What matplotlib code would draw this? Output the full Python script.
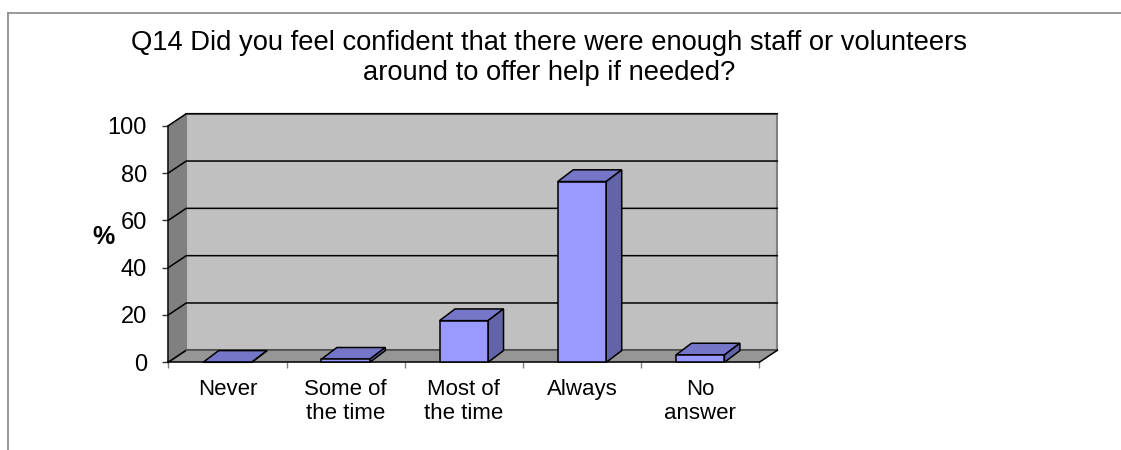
import numpy as np
import matplotlib
matplotlib.use("Agg")
import matplotlib.pyplot as plt
from matplotlib.patches import Polygon, Rectangle
from matplotlib.lines import Line2D

categories = ["Never", "Some of\nthe time", "Most of\nthe time", "Always", "No\nanswer"]
values = [0, 1.3, 17.6, 76.4, 3.1]
yticks = [0, 20, 40, 60, 80, 100]
title = "Q14 Did you feel confident that there were enough staff or volunteers\naround to offer help if needed?"

plt.rcParams['font.family'] = ['Liberation Sans', 'DejaVu Sans']

fig = plt.figure(figsize=(11.21, 4.5), dpi=100)
ax = fig.add_axes([168.3 / 1121, (450 - 362.3) / 450, 591 / 1121, 236.6 / 450])
ax.set_xlim(0, len(categories))
ax.set_ylim(0, 100)
ax.patch.set_visible(False)

# depth of the 3d box (wall) and of the bars, in data units
dxw, dyw = 0.152, 5.07
dxb, dyb = 0.131, 4.95
n = len(categories)

# back wall, side wall, floor
ax.add_patch(Rectangle((dxw, dyw), n, 100, facecolor="#C0C0C0", edgecolor="#808080",
                       lw=1.5, zorder=0, clip_on=False))
ax.add_patch(Polygon([(0, 0), (dxw, dyw), (dxw, 100 + dyw), (0, 100)], closed=True,
                     facecolor="#808080", edgecolor="none", zorder=0.5, clip_on=False))
for y in yticks:
    ax.plot([0, dxw, n + dxw], [y, y + dyw, y + dyw], color="black", lw=1.1,
            zorder=1, clip_on=False)
ax.add_patch(Polygon([(0, 0), (n, 0), (n + dxw, dyw), (dxw, dyw)], closed=True,
                     facecolor="#969696", edgecolor="none", zorder=1.5, clip_on=False))
ax.plot([0, dxw], [0, dyw], color="black", lw=1.1, zorder=1.6, clip_on=False)
ax.plot([dxw, n + dxw], [dyw, dyw], color="#555555", lw=1.1, zorder=1.6, clip_on=False)
ax.plot([n, n + dxw], [0, dyw], color="black", lw=1.1, zorder=1.6, clip_on=False)

# bars
x = np.arange(n) + 0.5
bars = ax.bar(x, values, width=0.41, color="#9999FF", edgecolor="black", lw=1.1,
              zorder=4, clip_on=False)
for p in bars:
    x0, w, h = p.get_x(), p.get_width(), p.get_height()
    top = [(x0, h), (x0 + w, h), (x0 + w + dxb, h + dyb), (x0 + dxb, h + dyb)]
    side = [(x0 + w, 0), (x0 + w + dxb, dyb), (x0 + w + dxb, h + dyb), (x0 + w, h)]
    ax.add_patch(Polygon(top, closed=True, facecolor="#7676C8", edgecolor="black",
                         lw=1.1, zorder=3, clip_on=False))
    ax.add_patch(Polygon(side, closed=True, facecolor="#6363A8", edgecolor="black",
                         lw=1.1, zorder=3, clip_on=False))

# axes
for s in ["top", "right"]:
    ax.spines[s].set_visible(False)
ax.spines["left"].set_color("black")
ax.spines["left"].set_linewidth(1.1)
ax.spines["bottom"].set_color("black")
ax.spines["bottom"].set_linewidth(1.1)
ax.spines["bottom"].set_zorder(2)
ax.set_yticks(yticks)
ax.tick_params(axis="y", length=4.3, width=1, pad=11, labelsize=17, color="#333333")
ax.set_xticks(x)
ax.set_xticklabels(categories)
ax.set_xticks(np.arange(n + 1), minor=True)
ax.tick_params(axis="x", which="major", length=0, pad=12, labelsize=16)
ax.tick_params(axis="x", which="minor", length=4.3, width=1, color="#808080")
ax.set_ylabel("%", rotation=0, fontsize=18, fontweight="bold", va="center", ha="center")
ax.yaxis.set_label_coords(-0.109, 0.53)

fig.text(549 / 1121, 1 - 58 / 450, title, ha="center", va="center", fontsize=19.7,
         linespacing=1.2)

# chart area border
fig.add_artist(Line2D([8 / 1121, 1], [1 - 13 / 450, 1 - 13 / 450], color="#888888", lw=1.2))
fig.add_artist(Line2D([8 / 1121, 8 / 1121], [0, 1 - 13 / 450], color="#888888", lw=1.2))

fig.savefig("out.png", dpi=100)
